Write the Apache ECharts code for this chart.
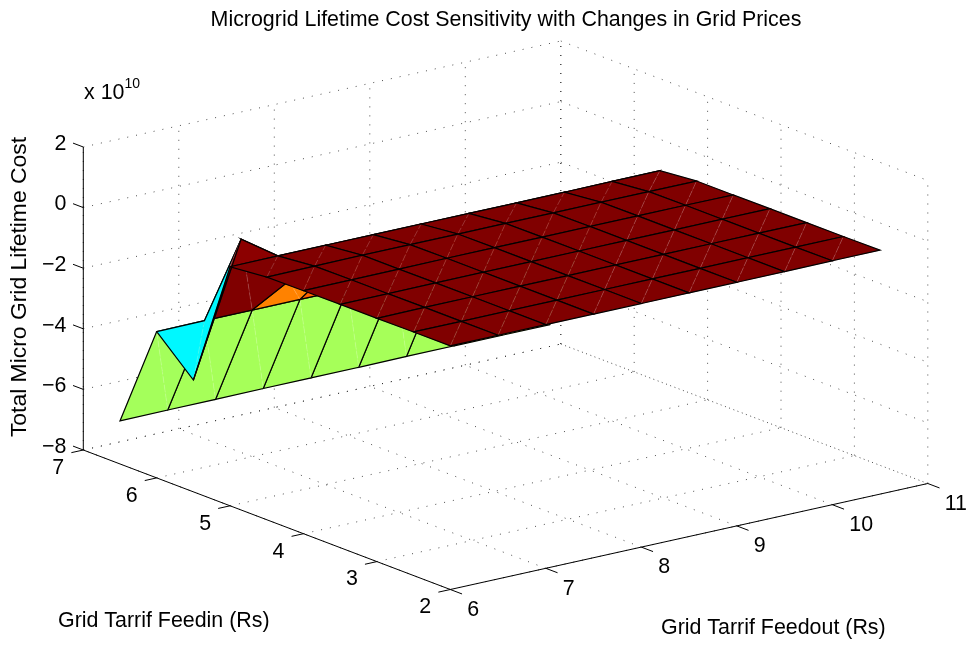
<!DOCTYPE html>
<html>
<head>
<meta charset="utf-8">
<style>html,body{margin:0;padding:0;background:#fff}#c{width:971px;height:646px}</style>
<script src="https://cdn.jsdelivr.net/npm/echarts@6/dist/echarts.min.js"></script>
</head>
<body>
<div id="c"></div>
<script>
// ---- tick labels ----
const feedoutTicks = [6, 7, 8, 9, 10, 11];
const feedinTicks = [2, 3, 4, 5, 6, 7];
const costTicks = [-8, -6, -4, -2, 0, 2];
const costTickLabels = ['\u22128', '\u22126', '\u22124', '\u22122', '0', '2'];

// ---- surface grid (cost in units of 1e10) ----
const feedoutValues = [6, 6.5, 7, 7.5, 8, 8.5, 9, 9.5, 10, 10.5];
const feedinValues = [2, 2.5, 3, 3.5, 4, 4.5, 5, 5.5, 6, 6.5];
const costAtFeedin2   = [0.04, 0.04, 0.04, 0.04, 0.04, 0.04, 0.04, 0.04, 0.05, 0.05];
const costAtFeedin2_5 = [0.04, 0.04, 0.04, 0.04, 0.04, 0.04, 0.04, 0.04, 0.04, 0.04];
const costAtFeedin3   = [0.03, 0.04, 0.04, 0.04, 0.04, 0.04, 0.04, 0.04, 0.04, 0.04];
const costAtFeedin3_5 = [0.03, 0.03, 0.04, 0.04, 0.04, 0.04, 0.04, 0.04, 0.04, 0.04];
const costAtFeedin4   = [0.02, 0.03, 0.03, 0.04, 0.04, 0.04, 0.04, 0.04, 0.04, 0.03];
const costAtFeedin4_5 = [0.01, 0.02, 0.03, 0.03, 0.03, 0.03, 0.03, 0.03, 0.03, 0.03];
const costAtFeedin5   = [-0.11, -0.10, -0.10, -0.10, -0.10, -0.10, -0.10, -0.10, -0.09, -0.09];
const costAtFeedin5_5 = [-4.31, -0.01, -1.74, -1.53, -1.50, -1.50, -1.50, -1.50, -1.50, -1.50];
const costAtFeedin6   = [-3.17, -3.16, -3.16, -3.16, -3.16, -3.16, -3.16, -3.16, -3.16, -3.16];
const costAtFeedin6_5 = [-6.58, -6.57, -6.57, -6.56, -6.56, -6.56, -6.55, -6.55, -6.55, -6.55];
const costRows = [costAtFeedin2, costAtFeedin2_5, costAtFeedin3, costAtFeedin3_5, costAtFeedin4,
  costAtFeedin4_5, costAtFeedin5, costAtFeedin5_5, costAtFeedin6, costAtFeedin6_5];

// ---- text ----
const chartTitle = 'Microgrid Lifetime Cost Sensitivity with Changes in Grid Prices';
const feedoutName = 'Grid Tarrif Feedout (Rs)';
const feedinName = 'Grid Tarrif Feedin (Rs)';
const costName = 'Total Micro Grid Lifetime Cost';

// ---- orthographic view of the 3D box onto the page plane ----
const view = {ox: 83.3, oy: 450, xdx: 95.5, xdy: -21.2, ydx: 73.4, ydy: 27.9, zdy: -30.3};
function project(x, y, z) {
  return [
    view.ox + view.xdx * (x - 6) + view.ydx * (7 - y),
    view.oy + view.xdy * (x - 6) + view.ydy * (7 - y) + view.zdy * (z + 8)
  ];
}
// MATLAB jet colormap, colour limits
const colorMin = -6.8, colorMax = -0.03;
function jet(t) {
  t = Math.max(0, Math.min(1, t));
  const c = v => Math.round(255 * Math.max(0, Math.min(1, v)));
  const r = 1.5 - Math.abs(4 * t - 3), g = 1.5 - Math.abs(4 * t - 2), b = 1.5 - Math.abs(4 * t - 1);
  return 'rgb(' + c(r) + ',' + c(g) + ',' + c(b) + ')';
}

// far cells first
const cells = [];
for (let j = feedinValues.length - 2; j >= 0; j--)
  for (let i = feedoutValues.length - 2; i >= 0; i--) cells.push([i, j]);

const segs = { dots: [], solid: [] };
const x0 = 6, x1 = 11, y0 = 2, y1 = 7, z0 = -8, z1 = 2;
feedoutTicks.forEach(x => {
  segs.dots.push([[x, y0, z0], [x, y1, z0]]);
  segs.dots.push([[x, y1, z0], [x, y1, z1]]);
  segs.solid.push([[x, y0, z0], [x, y0 - 0.16, z0]]);
});
feedinTicks.forEach(y => {
  segs.dots.push([[x0, y, z0], [x1, y, z0]]);
  segs.dots.push([[x1, y, z0], [x1, y, z1]]);
  segs.solid.push([[x0, y, z0], [x0 - 0.125, y, z0]]);
});
costTicks.forEach(z => {
  segs.dots.push([[x0, y1, z], [x1, y1, z]]);
  segs.dots.push([[x1, y1, z], [x1, y0, z]]);
  segs.solid.push([[x0, y1, z], [x0, y1 + 0.14, z]]);
});
segs.solid.push([[x0, y1, z0], [x0, y0, z0]]);
segs.solid.push([[x0, y0, z0], [x1, y0, z0]]);
segs.solid.push([[x0, y1, z0], [x0, y1, z1]]);

function renderSeg(style) {
  return function (params, api) {
    const s = params.dataIndex;
    const list = style.list;
    const a = api.coord(project(...list[s][0])), b = api.coord(project(...list[s][1]));
    return {type: 'line', shape: {x1: a[0], y1: a[1], x2: b[0], y2: b[1]}, style: style.style, silent: true};
  };
}

function renderCell(params, api) {
  const [i, j] = cells[params.dataIndex];
  const P = (a, b) => api.coord(project(feedoutValues[a], feedinValues[b], costRows[b][a]));
  const A = P(i, j), B = P(i + 1, j), C = P(i + 1, j + 1), D = P(i, j + 1);
  const fill = jet((costRows[j][i] - colorMin) / (colorMax - colorMin));
  return {
    type: 'group',
    silent: true,
    children: [
      {type: 'polygon', shape: {points: [A, C, D]}, style: {fill: fill, stroke: fill, lineWidth: 0.4}},
      {type: 'polygon', shape: {points: [A, B, C]}, style: {fill: fill, stroke: fill, lineWidth: 0.4}},
      {type: 'line', shape: {x1: A[0], y1: A[1], x2: C[0], y2: C[1]},
        style: {stroke: 'rgba(255,255,255,0.28)', lineWidth: 0.7, lineDash: [7, 2]}},
      {type: 'polygon', shape: {points: [A, B, C, D]}, style: {fill: 'none', stroke: '#000', lineWidth: 1.2}}
    ]
  };
}

const textStyleBase = {fontFamily: '"Liberation Sans", Arial, sans-serif', fill: '#000'};
const tickTexts = [];
feedoutTicks.forEach(x => tickTexts.push({p: [x, y0, z0], dx: 17, dy: 20.5, text: String(x), align: 'left'}));
feedinTicks.forEach(y => tickTexts.push({p: [x0, y, z0], dx: -25, dy: 18, text: String(y), align: 'center'}));
costTicks.forEach((z, k) => tickTexts.push({p: [x0, y1, z], dx: -17, dy: -3, text: costTickLabels[k], align: 'right'}));

function renderTick(params, api) {
  const t = tickTexts[params.dataIndex];
  const c = api.coord(project(...t.p));
  return {type: 'text', silent: true, x: c[0] + t.dx, y: c[1] + t.dy,
    style: Object.assign({}, textStyleBase, {text: t.text, fontSize: 21.4, textAlign: t.align, textVerticalAlign: 'middle'})};
}

const dotStyle = {stroke: '#222', lineWidth: 0.8, lineDash: [1, 8]};
const solidStyle = {stroke: '#000', lineWidth: 1};

const chart = echarts.init(document.getElementById('c'), null, {renderer: 'canvas'});
chart.setOption({
  animation: false,
  backgroundColor: '#fff',
  title: {text: chartTitle, left: 501, top: 5, textAlign: 'center',
    textStyle: {fontFamily: textStyleBase.fontFamily, fontSize: 21.4, fontWeight: 'normal', color: '#000'}},
  grid: {left: 0, top: 0, width: 971, height: 646, containLabel: false},
  xAxis: {type: 'value', min: 0, max: 971, show: false},
  yAxis: {type: 'value', min: 0, max: 646, inverse: true, show: false},
  series: [
    {type: 'custom', coordinateSystem: 'cartesian2d', clip: false, silent: true,
      data: segs.dots.map((s, i) => [i]), renderItem: renderSeg({list: segs.dots, style: dotStyle}), z: 1},
    {type: 'custom', coordinateSystem: 'cartesian2d', clip: false, silent: true,
      data: cells.map((c, i) => [i]), renderItem: renderCell, z: 2},
    {type: 'custom', coordinateSystem: 'cartesian2d', clip: false, silent: true,
      data: segs.solid.map((s, i) => [i]), renderItem: renderSeg({list: segs.solid, style: solidStyle}), z: 3},
    {type: 'custom', coordinateSystem: 'cartesian2d', clip: false, silent: true,
      data: tickTexts.map((t, i) => [i]), renderItem: renderTick, z: 4}
  ],
  graphic: [
    {type: 'text', x: 84, y: 93.5, silent: true,
      style: Object.assign({}, textStyleBase, {text: 'x 10', fontSize: 21.4, textVerticalAlign: 'middle'})},
    {type: 'text', x: 124.5, y: 84, silent: true,
      style: Object.assign({}, textStyleBase, {text: '10', fontSize: 14, textVerticalAlign: 'middle'})},
    {type: 'text', x: 58, y: 621.5, silent: true,
      style: Object.assign({}, textStyleBase, {text: feedinName, fontSize: 21.4, textVerticalAlign: 'middle'})},
    {type: 'text', x: 661, y: 628.5, silent: true,
      style: Object.assign({}, textStyleBase, {text: feedoutName, fontSize: 21.4, textVerticalAlign: 'middle'})},
    {type: 'text', x: 20.5, y: 287, rotation: Math.PI / 2, silent: true, scaleX: 1.07,
      style: Object.assign({}, textStyleBase, {text: costName, fontSize: 21.4, textAlign: 'center', textVerticalAlign: 'middle'})}
  ]
});
</script>
</body>
</html>
